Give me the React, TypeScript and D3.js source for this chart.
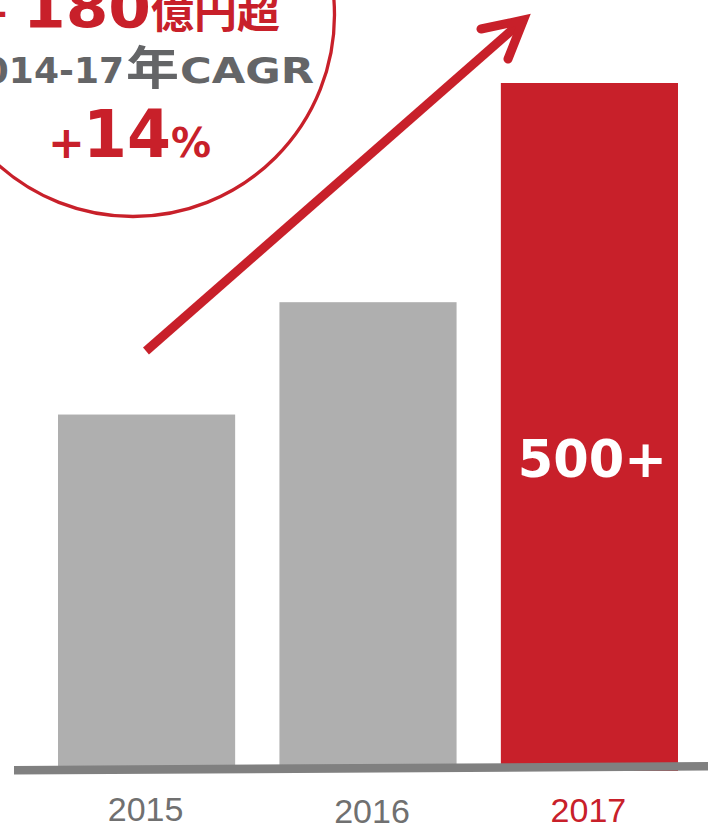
import React from "react";
import * as d3 from "d3";

const years = ["2015", "2016", "2017"];
const values = [258, 340, 500];
const barLabels = ["", "", "500+"];
const highlightYear = "2017";
const headlineAmount = "+180";
const headlineUnit = "億円超";
const cagrPeriod = "2014-17";
const cagrYearChar = "年";
const cagrLabel = "CAGR";
const cagrSign = "+";
const cagrValue = "14";
const cagrPct = "%";

const RED = "#C8202A";
const GRAY_BAR = "#AFAFAF";
const GRAY_LINE = "#808080";
const GRAY_TEXT = "#707070";
const GRAY_DARK = "#646567";

const W = 708;
const H = 827;
const BOLD = "'DejaVu Sans', Verdana, sans-serif";
const CJK = "'Noto Sans CJK JP', 'Noto Sans CJK SC', sans-serif";

export default function App() {
  const x = d3.scaleBand<string>().domain(years).range([58, 678]).paddingInner(0.2).paddingOuter(0);
  const y = d3.scaleLinear().domain([0, 500]).range([768, 83]);
  const labelOffsets = [0, 8, 0];
  const labelBase = [821, 823, 822];

  const shaft = d3.line()([
    [146, 351],
    [523.5, 20],
  ]);
  const head = d3.line()([
    [481, 29],
    [523.5, 20],
    [508, 59],
  ]);
  const baseline = d3.line()([
    [14, 770.3],
    [708, 766.3],
  ]);

  return (
    <svg
      width={W}
      height={H}
      viewBox={`0 0 ${W} ${H}`}
      style={{ position: "absolute", left: 0, top: 0, background: "#fff" }}
    >
      <rect x={0} y={0} width={W} height={H} fill="#fff" />
      {/* circle callout */}
      <circle cx={133} cy={15} r={201.5} fill="none" stroke={RED} strokeWidth={3.3} />
      <text x={10} y={28} fontFamily={BOLD} fontWeight="bold" fontSize={45} fill={RED} textAnchor="end">
        {headlineAmount.slice(0, 1)}
      </text>
      <text x={23} y={28} fontFamily={BOLD} fontWeight="bold" fontSize={57} fill={RED} textLength={128} lengthAdjust="spacingAndGlyphs">
        {headlineAmount.slice(1)}
      </text>
      <text x={151} y={28} fontFamily={CJK} fontWeight="bold" fontSize={43} fill={RED}>
        {headlineUnit}
      </text>

      <text x={124} y={83} fontFamily={BOLD} fontWeight="bold" fontSize={36} fill={GRAY_DARK} textAnchor="end">
        {cagrPeriod}
      </text>
      <text x={126} y={84} fontFamily={CJK} fontWeight="bold" fontSize={46} fill={GRAY_DARK} textLength={53} lengthAdjust="spacingAndGlyphs">
        {cagrYearChar}
      </text>
      <text x={180} y={83} fontFamily={BOLD} fontWeight="bold" fontSize={36} fill={GRAY_DARK} textLength={134} lengthAdjust="spacingAndGlyphs">
        {cagrLabel}
      </text>

      <text x={48} y={158} fontFamily={BOLD} fontWeight="bold" fontSize={44} fill={RED}>
        {cagrSign}
      </text>
      <text x={83} y={157} fontFamily={BOLD} fontWeight="bold" fontSize={66} fill={RED} textLength={88} lengthAdjust="spacingAndGlyphs">
        {cagrValue}
      </text>
      <text x={171} y={157} fontFamily={BOLD} fontWeight="bold" fontSize={40} fill={RED}>
        {cagrPct}
      </text>

      {/* arrow */}
      <path d={shaft || ""} fill="none" stroke={RED} strokeWidth={9} strokeLinecap="butt" />
      <path d={head || ""} fill="none" stroke={RED} strokeWidth={9} strokeLinecap="round" strokeLinejoin="miter" strokeMiterlimit={10} />

      {/* bars */}
      {years.map((yr, i) => (
        <rect
          key={yr}
          x={x(yr)}
          y={y(values[i])}
          width={x.bandwidth()}
          height={y(0) - y(values[i]) + (yr === highlightYear ? 3 : 0)}
          fill={yr === highlightYear ? RED : GRAY_BAR}
        />
      ))}
      {years.map((yr, i) =>
        barLabels[i] ? (
          <text
            key={"bl" + yr}
            x={(x(yr) || 0) + x.bandwidth() / 2 + 3}
            y={477}
            textAnchor="middle"
            fontFamily={BOLD}
            fontWeight="bold"
            fontSize={51}
            fill="#fff"
          >
            {barLabels[i]}
          </text>
        ) : null
      )}

      {/* baseline */}
      <path d={baseline || ""} fill="none" stroke={GRAY_LINE} strokeWidth={8.6} />

      {/* x labels */}
      {years.map((yr, i) => (
        <text
          key={"xl" + yr}
          x={(x(yr) || 0) + x.bandwidth() / 2 + labelOffsets[i] - 1 - (i === 1 ? 3 : 0)}
          y={labelBase[i]}
          textAnchor="middle"
          fontFamily="'Liberation Sans', Arial, sans-serif"
          fontSize={34}
          fill={yr === highlightYear ? RED : GRAY_TEXT}
        >
          {yr}
        </text>
      ))}
    </svg>
  );
}
